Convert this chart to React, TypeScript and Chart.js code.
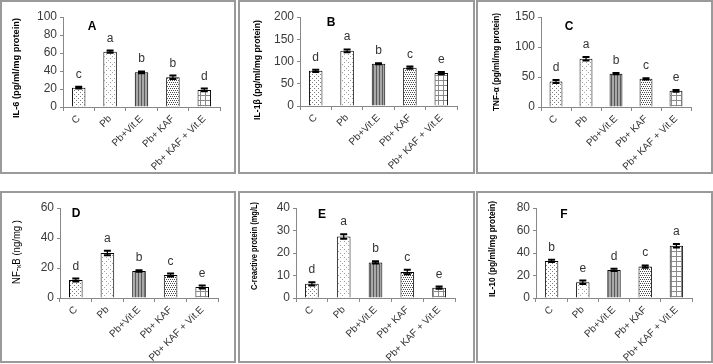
import React, { useEffect, useRef } from 'react';
import { Chart, registerables } from 'chart.js';

Chart.register(...registerables);

const FONT = '"Liberation Sans", Arial, sans-serif';
Chart.defaults.font.family = FONT;

// ---------- data ----------
const categories = ['C', 'Pb', 'Pb+Vit.E', 'Pb+ KAF', 'Pb+ KAF + Vit.E'];

const il6Values = [21.5, 61.5, 38.5, 33, 19];
const il6Errors = [1, 1.2, 1, 2, 1.5];
const il6Letters = ['c', 'a', 'b', 'b', 'd'];
const il6Ticks = [0, 20, 40, 60, 80, 100];

const il1bValues = [79, 124, 95, 86, 74];
const il1bErrors = [2.5, 3, 1, 2.5, 2.5];
const il1bLetters = ['d', 'a', 'b', 'c', 'e'];
const il1bTicks = [0, 50, 100, 150, 200];

const tnfValues = [42.5, 80.5, 55.5, 47, 27];
const tnfErrors = [2.5, 3, 1, 1, 1.5];
const tnfLetters = ['d', 'a', 'b', 'c', 'e'];
const tnfTicks = [0, 50, 100, 150];

const nfkbValues = [12, 30, 18, 15.3, 7.3];
const nfkbErrors = [1, 1.5, 0.5, 1, 1];
const nfkbLetters = ['d', 'a', 'b', 'c', 'e'];
const nfkbTicks = [0, 20, 40, 60];

const crpValues = [6.3, 27.3, 15.8, 11.6, 4.6];
const crpErrors = [0.7, 1, 0.5, 1, 0.5];
const crpLetters = ['d', 'a', 'b', 'c', 'e'];
const crpTicks = [0, 10, 20, 30, 40];

const il10Values = [33, 14, 25, 28, 46.5];
const il10Errors = [1, 1.5, 1, 1, 1.5];
const il10Letters = ['b', 'e', 'd', 'c', 'a'];
const il10Ticks = [0, 20, 40, 60, 80];

// ---------- panels (layout) ----------
type TitlePart = { t: string; sub?: boolean };
type PanelCfg = {
  id: string;
  left: number; top: number; w: number; h: number;
  area: { left: number; right: number; top: number; bottom: number };
  values: number[]; errors: number[]; letters: string[]; ticks: number[];
  title: TitlePart[]; titleBold: boolean; titleX: number; titleY: number; titleLen: number;
  tagX: number; tagY: number;
};

const panels: PanelCfg[] = [
  { id: 'A', left: 0, top: 0, w: 236, h: 174, area: { left: 63, right: 220, top: 17, bottom: 107 },
    values: il6Values, errors: il6Errors, letters: il6Letters, ticks: il6Ticks,
    title: [{ t: 'IL-6 (pg/ml/mg protein)' }], titleBold: true, titleX: 16, titleY: 68, titleLen: 100, tagX: 92, tagY: 27 },
  { id: 'B', left: 238, top: 0, w: 237, h: 174, area: { left: 62, right: 219, top: 17, bottom: 106 },
    values: il1bValues, errors: il1bErrors, letters: il1bLetters, ticks: il1bTicks,
    title: [{ t: 'IL-1β (pg/ml/mg protein)' }], titleBold: true, titleX: 19, titleY: 70, titleLen: 100, tagX: 93, tagY: 23 },
  { id: 'C', left: 476, top: 0, w: 237, h: 174, area: { left: 65, right: 215, top: 17, bottom: 107 },
    values: tnfValues, errors: tnfErrors, letters: tnfLetters, ticks: tnfTicks,
    title: [{ t: 'TNF-α (pg/ml/mg protein)' }], titleBold: true, titleX: 20, titleY: 62, titleLen: 98, tagX: 93, tagY: 27 },
  { id: 'D', left: 0, top: 191, w: 236, h: 172, area: { left: 60, right: 218, top: 17, bottom: 107 },
    values: nfkbValues, errors: nfkbErrors, letters: nfkbLetters, ticks: nfkbTicks,
    title: [{ t: 'NF-' }, { t: 'κ', sub: true }, { t: 'B (ng/mg )' }], titleBold: false, titleX: 17, titleY: 61, titleLen: 64, tagX: 76, tagY: 23 },
  { id: 'E', left: 238, top: 191, w: 237, h: 172, area: { left: 58, right: 217, top: 17, bottom: 107 },
    values: crpValues, errors: crpErrors, letters: crpLetters, ticks: crpTicks,
    title: [{ t: 'C-reactive protein (mg/L)' }], titleBold: true, titleX: 16, titleY: 55, titleLen: 88, tagX: 84, tagY: 24 },
  { id: 'F', left: 476, top: 191, w: 237, h: 172, area: { left: 60, right: 216, top: 17, bottom: 107 },
    values: il10Values, errors: il10Errors, letters: il10Letters, ticks: il10Ticks,
    title: [{ t: 'IL-10 (pg/ml/mg protein)' }], titleBold: true, titleX: 16, titleY: 58, titleLen: 96, tagX: 88, tagY: 24 },
];

// ---------- patterns ----------
function makePattern(kind: string): CanvasPattern | string {
  const c = document.createElement('canvas');
  const g = c.getContext('2d');
  if (!g) return '#ccc';
  const dot = (x: number, y: number) => g.fillRect(x, y, 1, 1);
  if (kind === 'dots') {
    c.width = 4; c.height = 4;
    g.fillStyle = '#fff'; g.fillRect(0, 0, 4, 4);
    g.fillStyle = '#7a7a7a'; dot(0, 0); dot(2, 2);
  } else if (kind === 'diamond') {
    c.width = 8; c.height = 8;
    g.fillStyle = '#fff'; g.fillRect(0, 0, 8, 8);
    g.fillStyle = '#a0a0a0';
    dot(0, 0); dot(2, 2); dot(4, 4); dot(6, 6); dot(6, 2); dot(2, 6);
  } else if (kind === 'vstripe') {
    c.width = 3; c.height = 1;
    g.fillStyle = '#a8a8a8'; g.fillRect(0, 0, 3, 1);
    g.fillStyle = '#5a5a5a'; dot(0, 0);
  } else if (kind === 'densedots') {
    c.width = 4; c.height = 4;
    g.fillStyle = '#fff'; g.fillRect(0, 0, 4, 4);
    g.fillStyle = '#4a4a4a'; dot(0, 0); dot(2, 0); dot(1, 2); dot(3, 2);
  } else {
    c.width = 5; c.height = 5;
    g.fillStyle = '#fff'; g.fillRect(0, 0, 5, 5);
    g.fillStyle = '#8a8a8a'; g.fillRect(0, 0, 5, 1); g.fillRect(0, 0, 1, 5);
  }
  return g.createPattern(c, 'repeat') || '#ccc';
}

const patternKinds = ['dots', 'diamond', 'vstripe', 'densedots', 'grid'];

function makeAnnotPlugin(p: PanelCfg) {
  return {
    id: 'annot' + p.id,
    afterDatasetsDraw(chart: any) {
      const ctx: CanvasRenderingContext2D = chart.ctx;
      const meta = chart.getDatasetMeta(0);
      const ys = chart.scales.y;
      ctx.save();
      meta.data.forEach((bar: any, i: number) => {
        const v = p.values[i];
        const e = p.errors[i];
        const x = bar.x;
        const yTop = ys.getPixelForValue(v + e);
        const yBot = ys.getPixelForValue(v - e);
        ctx.strokeStyle = '#000';
        ctx.lineWidth = 1.2;
        ctx.beginPath();
        ctx.moveTo(x, yTop);
        ctx.lineTo(x, yBot);
        ctx.stroke();
        ctx.lineWidth = 2;
        ctx.beginPath();
        ctx.moveTo(x - 3.5, yTop); ctx.lineTo(x + 3.5, yTop);
        ctx.moveTo(x - 3.5, yBot); ctx.lineTo(x + 3.5, yBot);
        ctx.stroke();
        ctx.fillStyle = '#333';
        ctx.font = '12px ' + FONT;
        ctx.textAlign = 'center';
        ctx.textBaseline = 'alphabetic';
        ctx.fillText(p.letters[i], x, yTop - 9);
      });
      // panel tag
      ctx.fillStyle = '#000';
      ctx.font = 'bold 12px ' + FONT;
      ctx.textAlign = 'center';
      ctx.textBaseline = 'middle';
      ctx.fillText(p.id, p.tagX, p.tagY);
      // y title
      const size = p.titleBold ? 9.6 : 10;
      const weight = p.titleBold ? 'bold ' : '';
      const mainFont = weight + size + 'px ' + FONT;
      const subFont = weight + (size * 0.72).toFixed(1) + 'px ' + FONT;
      let total = 0;
      const widths = p.title.map((part) => {
        ctx.font = part.sub ? subFont : mainFont;
        const w = ctx.measureText(part.t).width;
        total += w;
        return w;
      });
      const sx = Math.min(1, p.titleLen / total);
      ctx.translate(p.titleX, p.titleY);
      ctx.rotate(-Math.PI / 2);
      ctx.scale(sx, 1);
      ctx.textAlign = 'left';
      ctx.textBaseline = 'middle';
      let cx = -total / 2;
      p.title.forEach((part, i) => {
        ctx.font = part.sub ? subFont : mainFont;
        ctx.fillText(part.t, cx, part.sub ? 2.5 : 0);
        cx += widths[i];
      });
      ctx.restore();
    },
  };
}

function Panel({ p }: { p: PanelCfg }) {
  const ref = useRef<HTMLCanvasElement>(null);
  useEffect(() => {
    const canvas = ref.current;
    if (!canvas) return;
    const step = p.ticks[1] - p.ticks[0];
    const max = p.ticks[p.ticks.length - 1];
    const chart = new Chart(canvas, {
      type: 'bar',
      data: {
        labels: categories,
        datasets: [
          {
            data: p.values,
            backgroundColor: patternKinds.map(makePattern) as any,
            borderColor: '#000',
            borderWidth: 1,
            barPercentage: 0.43,
            categoryPercentage: 1,
          },
        ],
      },
      options: {
        responsive: false,
        animation: false,
        devicePixelRatio: 1,
        layout: { padding: { left: 0, top: p.area.top, right: p.w - p.area.right, bottom: 0 } },
        plugins: {
          legend: { display: false },
          tooltip: { enabled: false },
          title: { display: false },
        },
        scales: {
          x: {
            offset: true,
            grid: { display: true, drawOnChartArea: false, drawTicks: true, tickLength: 4, color: '#888', offset: true },
            border: { display: true, color: '#888', width: 1 },
            ticks: {
              autoSkip: false,
              maxRotation: 45,
              minRotation: 45,
              padding: 2,
              color: '#333',
              font: { family: FONT, size: 10 },
            },
            afterFit: (s: any) => {
              s.height = p.h - p.area.bottom;
            },
          },
          y: {
            min: 0,
            max,
            ticks: { stepSize: step, color: '#3a3a3a', padding: 3, font: { family: FONT, size: 12 } },
            grid: { display: true, drawOnChartArea: false, drawTicks: true, tickLength: 3, color: '#888' },
            border: { display: true, color: '#888', width: 1 },
            afterFit: (s: any) => {
              s.width = p.area.left;
            },
          },
        },
      },
      plugins: [makeAnnotPlugin(p)],
    });
    return () => chart.destroy();
  }, []);
  return (
    <div style={{ position: 'absolute', left: p.left, top: p.top, width: p.w, height: p.h }}>
      <canvas
        ref={ref}
        width={p.w}
        height={p.h}
        style={{ position: 'absolute', left: 0, top: 0, width: p.w, height: p.h }}
      />
      <div
        style={{
          position: 'absolute',
          left: 0,
          top: 0,
          width: p.w,
          height: p.h,
          border: '2px solid #9a9a9a',
          boxSizing: 'border-box',
          pointerEvents: 'none',
        }}
      />
    </div>
  );
}

export default function App() {
  return (
    <div style={{ position: 'absolute', left: 0, top: 0, width: 713, height: 364, background: '#fff', overflow: 'hidden' }}>
      {panels.map((p) => (
        <Panel key={p.id} p={p} />
      ))}
    </div>
  );
}
